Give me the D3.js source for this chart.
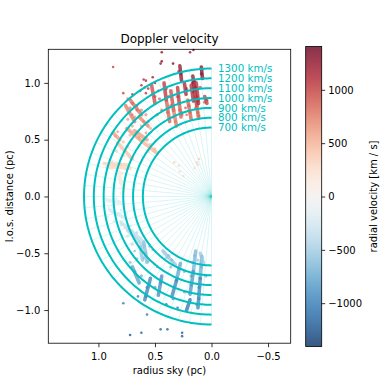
<!DOCTYPE html>
<html>
<head>
<meta charset="utf-8">
<script src="https://cdn.jsdelivr.net/npm/d3@7"></script>
<style>
  body { margin: 0; background: #fff; }
  svg { font-family: "DejaVu Sans", sans-serif; }
</style>
</head>
<body>
<div class="doppler-chart"></div>
<script>
// shell radii are velocity * kinematic age
const arcVelocities = [700, 800, 900, 1000, 1100, 1200, 1300];
const kinematicAge = 0.000867; // pc per km/s
const xTicks = [1.0, 0.5, 0.0, -0.5];
const yTicks = [-1.0, -0.5, 0.0, 0.5, 1.0];
const cbarTicks = [-1000, -500, 0, 500, 1000];

// elongated knots: [sky x1, los y1, sky x2, los y2, velocity]
const streaks = [
  [0.165, 1.06, 0.150, 0.94, 1250],
  [0.150, 0.94, 0.130, 0.80, 1050],
  [0.130, 0.80, 0.115, 0.69, 850],
  [0.135, 1.00, 0.115, 0.82, 1100],
  [0.180, 0.98, 0.160, 0.84, 1100],
  [0.090, 1.14, 0.080, 1.04, 1300],
  [0.280, 1.15, 0.265, 1.02, 1250],
  [0.420, 1.00, 0.400, 0.85, 1050],
  [0.400, 0.85, 0.370, 0.66, 850],
  [0.360, 0.93, 0.335, 0.76, 950],
  [0.335, 0.76, 0.310, 0.62, 750],
  [0.300, 0.96, 0.285, 0.82, 1050],
  [0.285, 0.82, 0.270, 0.70, 850],
  [0.210, 0.85, 0.180, 0.68, 850],
  [0.060, 0.88, 0.040, 0.82, 1000],
  [0.240, 1.00, 0.225, 0.90, 1150],
  [0.530, 0.98, 0.500, 0.82, 950],
  [0.720, 0.85, 0.620, 0.72, 800],
  [0.760, 0.80, 0.680, 0.66, 750],
  [0.750, 0.60, 0.620, 0.49, 600],
  [0.620, 0.49, 0.480, 0.38, 500],
  [0.680, 0.58, 0.570, 0.50, 600],
  [0.640, 0.70, 0.560, 0.62, 700],
  [0.950, 0.29, 0.750, 0.28, 330],
  [0.900, 0.26, 0.720, 0.25, 300],
  [0.870, 0.56, 0.810, 0.50, 600],
  [0.830, 0.47, 0.700, 0.33, 420],
  [0.820, 0.22, 0.780, 0.05, 150],
  [0.930, -0.03, 0.780, -0.06, -150],
  [0.900, -0.12, 0.760, -0.19, -230],
  [0.800, -0.23, 0.620, -0.38, -350],
  [0.740, -0.30, 0.600, -0.44, -420],
  [0.600, -0.40, 0.570, -0.58, -600],
  [0.630, -0.44, 0.610, -0.56, -550],
  [0.700, -0.62, 0.640, -0.76, -800],
  [0.430, -0.48, 0.320, -0.60, -550],
  [0.275, -0.59, 0.310, -0.74, -750],
  [0.310, -0.74, 0.350, -0.88, -950],
  [0.140, -0.48, 0.160, -0.66, -650],
  [0.160, -0.66, 0.190, -0.86, -850],
  [0.085, -0.53, 0.100, -0.72, -700],
  [0.100, -0.72, 0.120, -0.98, -950],
  [0.540, -0.72, 0.590, -0.91, -950],
  [0.440, -0.70, 0.470, -0.87, -900],
  [0.190, -0.91, 0.220, -1.00, -1050],
  [0.100, -0.50, 0.070, -0.59, -500]
];

// single knots: [sky x, los y, velocity]
const knots = [
  [0.44, 1.27, 1250], [0.44, 1.19, 1250], [0.45, 1.17, 1200], [0.34, 1.17, 1300],
  [0.19, 1.27, 1200], [0.16, 1.29, 1250], [0.87, 1.14, 950],
  [0.78, 0.91, 950], [0.70, 0.90, 1000], [0.62, 0.98, 1050], [0.58, 1.02, 1100],
  [0.56, 0.95, 1000], [0.63, 0.93, 1000], [0.50, 1.00, 1100], [0.47, 0.93, 1050],
  [0.52, 1.05, 1150], [0.60, 1.03, 1050], [0.59, 0.96, 1000], [0.58, 0.91, 1000],
  [0.23, 0.78, 850], [0.26, 0.74, 800], [0.22, 0.72, 800], [0.05, 0.86, 1000],
  [0.66, 0.76, 800], [0.70, 0.72, 750], [0.60, 0.66, 700], [0.58, 0.56, 600],
  [0.64, 0.52, 580], [0.85, 0.53, 580], [0.83, 0.57, 600], [0.88, 0.30, 320],
  [0.80, 0.33, 380], [0.76, 0.40, 430], [0.79, 0.20, 200], [0.81, 0.12, 150],
  [0.13, 0.30, 300], [0.11, 0.33, 350], [0.29, 0.27, 300], [0.28, 0.22, 250],
  [0.25, 0.18, 250], [0.33, 0.30, 300], [0.15, 0.25, 250], [0.12, 0.28, 300],
  [0.88, -0.08, -180], [0.84, -0.02, -150], [0.80, -0.12, -200], [0.92, -0.18, -200],
  [0.72, -0.26, -320], [0.66, -0.32, -380], [0.55, -0.44, -500], [0.52, -0.47, -520],
  [0.38, -0.52, -600], [0.35, -0.56, -620], [0.68, -0.48, -550], [0.48, -0.62, -700],
  [0.72, -1.22, -1200], [0.62, -1.20, -1150], [0.45, -1.17, -1100], [0.39, -1.17, -1100],
  [0.26, -1.20, -1150], [0.26, -1.23, -1150], [0.78, -0.94, -1000], [0.57, -1.04, -1000],
  [0.40, -0.95, -1000], [0.30, -0.98, -1050], [0.65, -0.88, -950]
];

// diffuse emission round the knots: [sky x, los y, velocity]
const haze = [
  [0.94, -0.02, -120], [0.90, -0.04, -140], [0.86, -0.06, -150], [0.82, -0.04, -140],
  [0.78, -0.08, -170], [0.91, -0.10, -170], [0.87, -0.14, -190], [0.83, -0.16, -210],
  [0.79, -0.18, -220], [0.75, -0.15, -200], [0.86, -0.22, -250], [0.80, -0.25, -280],
  [0.76, -0.28, -300], [0.70, -0.30, -330], [0.74, -0.35, -360], [0.68, -0.37, -390],
  [0.64, -0.40, -430], [0.70, -0.42, -450], [0.62, -0.46, -480], [0.58, -0.50, -540],
  [0.60, -0.54, -580], [0.56, -0.57, -620], [0.66, -0.55, -600], [0.72, -0.58, -680],
  [0.68, -0.66, -750], [0.62, -0.70, -800],
  [0.74, 0.86, 900], [0.70, 0.82, 850], [0.66, 0.80, 850], [0.72, 0.78, 820],
  [0.62, 0.76, 780], [0.68, 0.70, 740], [0.74, 0.68, 700], [0.58, 0.72, 760],
  [0.56, 0.66, 700], [0.62, 0.62, 660], [0.70, 0.62, 650], [0.54, 0.60, 640],
  [0.66, 0.56, 600], [0.72, 0.54, 560], [0.60, 0.50, 560], [0.54, 0.46, 520],
  [0.50, 0.42, 480], [0.56, 0.40, 460], [0.78, 0.48, 500], [0.74, 0.44, 470],
  [0.78, 0.36, 400], [0.84, 0.40, 420], [0.90, 0.32, 350], [0.93, 0.26, 300],
  [0.86, 0.27, 300], [0.80, 0.28, 320], [0.76, 0.24, 280], [0.82, 0.17, 200],
  [0.78, 0.10, 130], [0.80, 0.03, 80],
  [0.15, 1.02, 1200], [0.17, 1.00, 1150], [0.14, 0.96, 1120], [0.16, 0.92, 1080],
  [0.13, 0.88, 1020], [0.15, 0.86, 1000], [0.12, 0.84, 960], [0.14, 0.78, 920],
  [0.12, 0.74, 870], [0.11, 0.71, 820], [0.10, 0.96, 1100], [0.09, 1.08, 1250],
  [0.27, 1.08, 1200], [0.29, 1.10, 1250], [0.40, 0.95, 1050], [0.38, 0.88, 980],
  [0.36, 0.80, 900], [0.34, 0.70, 800], [0.32, 0.66, 760], [0.39, 0.74, 840],
  [0.30, 0.88, 980], [0.28, 0.76, 860], [0.26, 0.72, 800], [0.20, 0.80, 880],
  [0.19, 0.74, 820], [0.46, 0.86, 960], [0.44, 0.76, 860], [0.48, 0.72, 800],
  [0.50, 0.88, 980], [0.04, 0.85, 1000], [0.06, 0.83, 980], [0.22, 0.95, 1100],
  [0.15, -0.52, -620], [0.17, -0.58, -680], [0.18, -0.70, -780], [0.18, -0.78, -860],
  [0.29, -0.64, -720], [0.33, -0.80, -880], [0.09, -0.62, -720], [0.11, -0.80, -880],
  [0.11, -0.90, -980], [0.45, -0.76, -860], [0.57, -0.80, -900], [0.58, -0.88, -960],
  [0.40, -0.54, -600], [0.36, -0.62, -680], [0.24, -0.66, -720], [0.24, -0.84, -900],
  [0.05, -0.70, -780], [0.13, -0.95, -1000], [0.34, -0.90, -980], [0.50, -0.80, -900],
  [0.09, -0.52, -560], [0.12, -0.56, -600]
];

const width = 390;
const height = 390;
const plot = { left: 48.3, right: 290.7, top: 49.3, bottom: 343.2 };
const cbar = { left: 305.7, right: 321.7, top: 46.5, bottom: 346.5 };

const svg = d3
  .select(".doppler-chart")
  .append("svg")
  .attr("width", width)
  .attr("height", height);

const x = d3.scaleLinear().domain([1.443, -0.7]).range([plot.left, plot.right]);
const y = d3.scaleLinear().domain([-1.292, 1.296]).range([plot.bottom, plot.top]);
const color = d3
  .scaleSequential((t) => d3.interpolateRdBu(1 - t))
  .domain([-1406, 1406]);

const outerRadius = d3.max(arcVelocities) * kinematicAge;

// faint rays from the centre
const rays = svg.append("g").attr("class", "rays");
d3.range(-90, 91, 5).forEach((deg) => {
  const a = (deg * Math.PI) / 180;
  rays
    .append("line")
    .attr("x1", x(0))
    .attr("y1", y(0))
    .attr("x2", x(outerRadius * Math.cos(a)))
    .attr("y2", y(outerRadius * Math.sin(a)))
    .attr("stroke", "#00bfbf")
    .attr("stroke-opacity", 0.25)
    .attr("stroke-width", 0.6);
});

// knots
svg
  .append("g")
  .selectAll("circle")
  .data(haze)
  .join("circle")
  .attr("cx", (d) => x(d[0]))
  .attr("cy", (d) => y(d[1]))
  .attr("r", 1.6)
  .attr("fill", (d) => color(d[2]))
  .attr("fill-opacity", 0.6);

svg
  .append("g")
  .selectAll("line")
  .data(streaks)
  .join("line")
  .attr("x1", (d) => x(d[0]))
  .attr("y1", (d) => y(d[1]))
  .attr("x2", (d) => x(d[2]))
  .attr("y2", (d) => y(d[3]))
  .attr("stroke", (d) => color(d[4]))
  .attr("stroke-width", 3.6)
  .attr("stroke-linecap", "round")
  .attr("stroke-opacity", 0.75);

svg
  .append("g")
  .selectAll("circle")
  .data(knots)
  .join("circle")
  .attr("cx", (d) => x(d[0]))
  .attr("cy", (d) => y(d[1]))
  .attr("r", 1.3)
  .attr("fill", (d) => color(d[2]))
  .attr("fill-opacity", 0.8);

// velocity shells
const angles = d3.range(-90, 90.5, 1).map((d) => (d * Math.PI) / 180);
arcVelocities.forEach((v) => {
  const r = v * kinematicAge;
  const shell = d3
    .line()
    .x((a) => x(r * Math.cos(a)))
    .y((a) => y(r * Math.sin(a)));
  svg
    .append("path")
    .datum(angles)
    .attr("d", shell)
    .attr("fill", "none")
    .attr("stroke", "#00bfbf")
    .attr("stroke-width", 2);
  svg
    .append("text")
    .attr("x", x(0) + 6.5)
    .attr("y", y(r))
    .attr("dy", "0.36em")
    .attr("fill", "#00bfbf")
    .attr("font-size", "10.3px")
    .text(`${v} km/s`);
});

// axes
const xAxis = d3
  .axisBottom(x)
  .tickValues(xTicks)
  .tickSize(4)
  .tickPadding(6)
  .tickFormat(d3.format(".1f"));
const yAxis = d3
  .axisLeft(y)
  .tickValues(yTicks)
  .tickSize(4)
  .tickPadding(4)
  .tickFormat(d3.format(".1f"));

svg
  .append("g")
  .attr("transform", `translate(0, ${plot.bottom})`)
  .call(xAxis)
  .call((g) => g.select(".domain").remove())
  .call((g) => g.selectAll("text").attr("font-size", "10px").attr("fill", "#000"))
  .call((g) => g.selectAll("line").attr("stroke", "#000").attr("stroke-width", 0.8))
  .attr("font-family", null);

svg
  .append("g")
  .attr("transform", `translate(${plot.left}, 0)`)
  .call(yAxis)
  .call((g) => g.select(".domain").remove())
  .call((g) => g.selectAll("text").attr("font-size", "10px").attr("fill", "#000"))
  .call((g) => g.selectAll("line").attr("stroke", "#000").attr("stroke-width", 0.8))
  .attr("font-family", null);

svg
  .append("rect")
  .attr("x", plot.left)
  .attr("y", plot.top)
  .attr("width", plot.right - plot.left)
  .attr("height", plot.bottom - plot.top)
  .attr("fill", "none")
  .attr("stroke", "#000")
  .attr("stroke-width", 0.8);

svg
  .append("text")
  .attr("x", (plot.left + plot.right) / 2)
  .attr("y", 43)
  .attr("text-anchor", "middle")
  .attr("font-size", "12px")
  .text("Doppler velocity");

svg
  .append("text")
  .attr("x", (plot.left + plot.right) / 2)
  .attr("y", 374)
  .attr("text-anchor", "middle")
  .attr("font-size", "10px")
  .text("radius sky (pc)");

svg
  .append("text")
  .attr("transform", `translate(13, ${(plot.top + plot.bottom) / 2}) rotate(-90)`)
  .attr("text-anchor", "middle")
  .attr("font-size", "10px")
  .text("l.o.s. distance (pc)");

// colorbar
const cb = d3.scaleLinear().domain([-1406, 1406]).range([cbar.bottom, cbar.top]);
const grad = svg
  .append("defs")
  .append("linearGradient")
  .attr("id", "cbar-grad")
  .attr("x1", 0)
  .attr("y1", 1)
  .attr("x2", 0)
  .attr("y2", 0);
d3.range(0, 1.0001, 0.05).forEach((t) => {
  grad
    .append("stop")
    .attr("offset", t)
    .attr("stop-color", color(-1406 + t * 2812));
});

svg
  .append("rect")
  .attr("x", cbar.left)
  .attr("y", cbar.top)
  .attr("width", cbar.right - cbar.left)
  .attr("height", cbar.bottom - cbar.top)
  .attr("fill", "url(#cbar-grad)")
  .attr("fill-opacity", 0.8)
  .attr("stroke", "#000")
  .attr("stroke-width", 0.8);

svg
  .append("g")
  .attr("transform", `translate(${cbar.right}, 0)`)
  .call(
    d3
      .axisRight(cb)
      .tickValues(cbarTicks)
      .tickSize(3.5)
      .tickPadding(3)
      .tickFormat(d3.format("d"))
  )
  .call((g) => g.select(".domain").remove())
  .call((g) => g.selectAll("text").attr("font-size", "10px").attr("fill", "#000"))
  .call((g) => g.selectAll("line").attr("stroke", "#000").attr("stroke-width", 0.8))
  .attr("font-family", null);

svg
  .append("text")
  .attr("transform", `translate(376.5, ${(cbar.top + cbar.bottom) / 2}) rotate(-90)`)
  .attr("text-anchor", "middle")
  .attr("font-size", "10px")
  .text("radial velocity [km / s]");
</script>
</body>
</html>
